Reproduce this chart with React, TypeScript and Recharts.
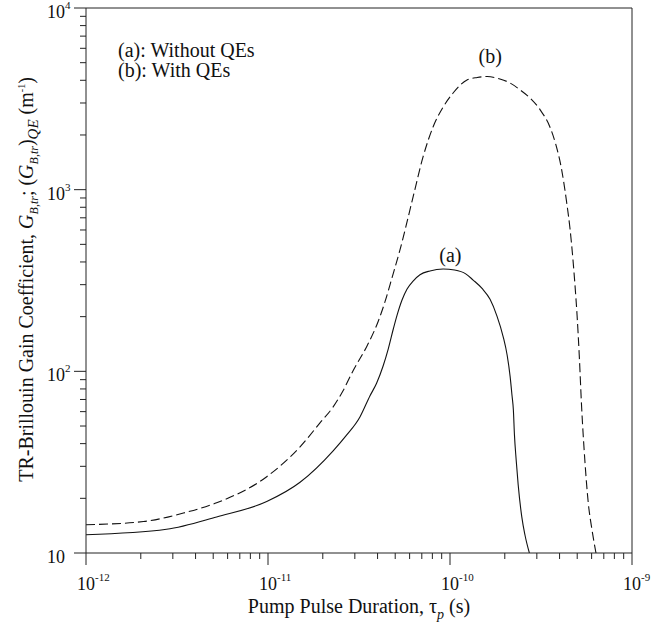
import { LineChart, Line, XAxis, YAxis, ReferenceLine, ReferenceDot, Label } from 'recharts'

// curve (a): without QEs (solid)
const tauA = [1e-12, 2.77e-12, 5.22e-12, 9.84e-12, 1.5e-11, 2.28e-11, 2.68e-11, 3.2e-11, 3.63e-11, 3.95e-11, 4.29e-11, 4.58e-11, 4.88e-11, 5.12e-11, 5.45e-11, 5.81e-11, 6.27e-11, 6.84e-11, 7.76e-11, 9.17e-11, 1.06e-10, 1.22e-10, 1.34e-10, 1.5e-10, 1.66e-10, 1.81e-10, 1.96e-10, 2.06e-10, 2.14e-10, 2.19e-10, 2.23e-10, 2.26e-10, 2.31e-10, 2.37e-10, 2.48e-10, 2.58e-10, 2.73e-10]
const gainA = [12.6, 13.5, 15.8, 19.2, 24.5, 36.5, 44.1, 56.1, 73.2, 86, 107, 133, 171, 204, 247, 284, 314, 340, 357, 366, 361, 344, 318, 286, 249, 202, 155, 123, 93.5, 74.1, 61, 44.7, 32.5, 23.7, 15.8, 12.6, 10]

// curve (b): with QEs (dashed)
const tauB = [1e-12, 2.07e-12, 3.43e-12, 5.22e-12, 9.84e-12, 1.5e-11, 1.93e-11, 2.28e-11, 2.58e-11, 2.93e-11, 3.5e-11, 4.02e-11, 4.39e-11, 4.8e-11, 5.31e-11, 6.27e-11, 7.11e-11, 8.07e-11, 9.17e-11, 1.04e-10, 1.24e-10, 1.41e-10, 1.6e-10, 1.88e-10, 2.14e-10, 2.43e-10, 2.75e-10, 3.13e-10, 3.54e-10, 3.82e-10, 4.11e-10, 4.38e-10, 4.56e-10, 4.74e-10, 4.86e-10, 4.99e-10, 5.13e-10, 5.28e-10, 5.52e-10, 5.75e-10, 6.03e-10, 6.34e-10]
const gainB = [14.3, 14.9, 16.6, 18.9, 26.3, 38.4, 52, 63.7, 78, 100.5, 138, 187, 241, 327, 466, 912, 1514, 2213, 2851, 3404, 4018, 4145, 4198, 4064, 3864, 3540, 3199, 2748, 2213, 1762, 1282, 845, 615, 410, 299, 204, 123, 65.3, 31.3, 18.9, 13.4, 10]

const xDecades = [1e-12, 1e-11, 1e-10]
const yDecades = [10, 100, 1000]
const minorSteps = [1, 2, 3, 4, 5, 6, 7, 8, 9]
const xTicks = [...xDecades.flatMap((d) => minorSteps.map((m) => m * d)), 1e-9]
const yTicks = [...yDecades.flatMap((d) => minorSteps.map((m) => m * d)), 1e4]

const dataA = tauA.map((t, i) => ({ t, g: gainA[i] }))
const dataB = tauB.map((t, i) => ({ t, g: gainB[i] }))

const FONT = '"Liberation Serif", "Times New Roman", serif'
const INK = '#222'

const decadeOf = (v: number) => {
  const lg = Math.log10(v)
  const r = Math.round(lg)
  return Math.abs(lg - r) < 1e-6 ? r : null
}

const XTick = ({ x, y, payload }: any) => {
  const exp = decadeOf(payload.value)
  return (
    <g>
      <line x1={x} x2={x} y1={y} y2={y + (exp !== null ? 12 : 6)} stroke={INK} />
      {exp !== null && (
        <text x={x - 9} y={y + 37} fontSize={18} fontFamily={FONT} fill="#111">
          10<tspan dy={-9} fontSize={11}>{String(exp)}</tspan>
        </text>
      )}
    </g>
  )
}

const YTick = ({ x, y, payload }: any) => {
  const exp = decadeOf(payload.value)
  return (
    <g>
      <line x1={x} x2={x - (exp !== null ? 12 : 6)} y1={y} y2={y} stroke={INK} />
      {exp !== null && (
        <text x={x - 39} y={y + 10} fontSize={18} fontFamily={FONT} fill="#111">
          10{exp > 1 && <tspan dy={-9} fontSize={11}>{String(exp)}</tspan>}
        </text>
      )}
    </g>
  )
}

const XTitle = ({ viewBox }: any) => (
  <text x={viewBox.x + viewBox.width / 2} y={viewBox.y + 60} textAnchor="middle" fontSize={20} fontFamily={FONT} fill="#111">
    {'Pump Pulse Duration, τ'}
    <tspan dy={6} fontSize={14} fontStyle="italic">p</tspan>
    <tspan dy={-6}>{' (s)'}</tspan>
  </text>
)

const YTitle = ({ viewBox }: any) => {
  const cx = 33
  const cy = viewBox.y + viewBox.height / 2 - 1
  return (
    <text x={cx} y={cy} transform={`rotate(-90, ${cx}, ${cy})`} textAnchor="middle" fontSize={20} fontFamily={FONT} fill="#111">
      {'TR-Brillouin Gain Coefficient, '}
      <tspan fontStyle="italic">G</tspan>
      <tspan dy={5} fontSize={12} fontStyle="italic">B,tr</tspan>
      <tspan dy={-5}>{'; ('}</tspan>
      <tspan fontStyle="italic">G</tspan>
      <tspan dy={5} fontSize={12} fontStyle="italic">B,tr</tspan>
      <tspan dy={-5}>)</tspan>
      <tspan dy={5} fontSize={15} fontStyle="italic">QE</tspan>
      <tspan dy={-5}>{' (m'}</tspan>
      <tspan dy={-8} fontSize={10}>-1</tspan>
      <tspan dy={8}>)</tspan>
    </text>
  )
}

const NoteText = ({ viewBox }: any) => (
  <text x={viewBox.x} y={viewBox.y} fontSize={20} fontFamily={FONT} fill="#111">
    <tspan x={viewBox.x}>(a): Without QEs</tspan>
    <tspan x={viewBox.x} dy={20}>(b): With QEs</tspan>
  </text>
)

const curveTag = (txt: string, dx: number, lift: number) => ({ viewBox }: any) => (
  <text x={viewBox.x + dx} y={viewBox.y - lift} textAnchor="middle" fontSize={20} fontFamily={FONT} fill="#111">
    {txt}
  </text>
)

export default function App() {
  return (
    <div style={{ position: 'absolute', left: 0, top: 0, background: '#fff' }}>
      <LineChart width={662} height={628} margin={{ top: 8, right: 30, left: 0, bottom: 0 }}>
        <XAxis
          dataKey="t"
          type="number"
          scale="log"
          domain={[1e-12, 1e-9]}
          allowDataOverflow
          ticks={xTicks}
          interval={0}
          tick={XTick}
          tickLine={false}
          tickSize={0}
          tickMargin={0}
          height={75}
          axisLine={{ stroke: INK }}
        >
          <Label content={XTitle} />
        </XAxis>
        <YAxis
          dataKey="g"
          type="number"
          scale="log"
          domain={[10, 1e4]}
          allowDataOverflow
          ticks={yTicks}
          interval={0}
          tick={YTick}
          tickLine={false}
          tickSize={0}
          tickMargin={0}
          width={86}
          axisLine={{ stroke: INK }}
        >
          <Label content={YTitle} />
        </YAxis>
        <ReferenceLine y={1e4} stroke={INK} />
        <ReferenceLine x={1e-9} stroke={INK} />
        <Line data={dataA} dataKey="g" type="monotone" stroke="#111" strokeWidth={1.1} dot={false} isAnimationActive={false} />
        <Line data={dataB} dataKey="g" type="monotone" stroke="#111" strokeWidth={1.1} strokeDasharray="9 4" dot={false} isAnimationActive={false} />
        <ReferenceDot x={1.5e-12} y={5370} r={0} fill="none" stroke="none" label={<Label content={NoteText} />} />
        <ReferenceDot x={9.2e-11} y={365} r={0} fill="none" stroke="none" label={<Label content={curveTag('(a)', 7, 7)} />} />
        <ReferenceDot x={1.6e-10} y={4200} r={0} fill="none" stroke="none" label={<Label content={curveTag('(b)', 3, 13)} />} />
      </LineChart>
    </div>
  )
}
